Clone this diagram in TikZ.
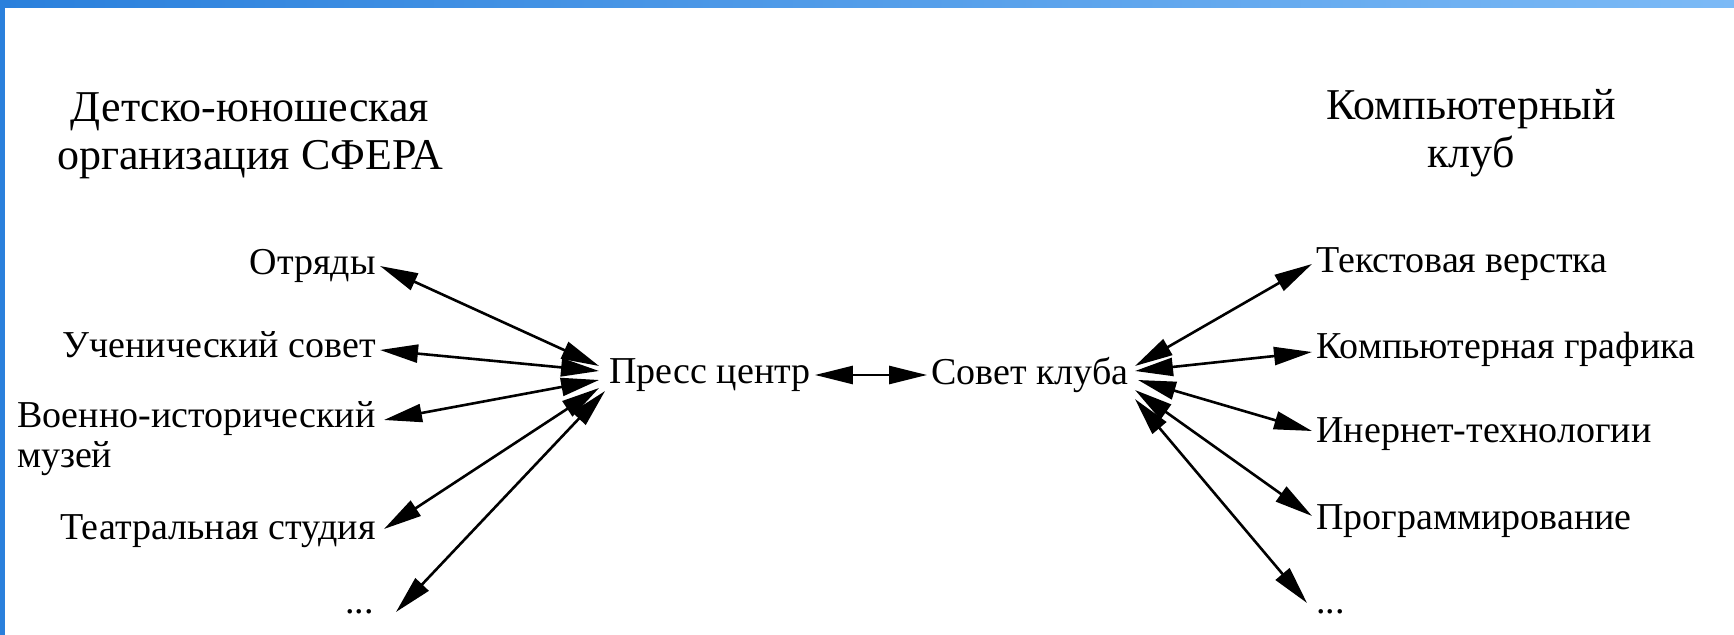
\documentclass[tikz,border=0pt]{standalone}
\usepackage{fontspec}
\setmainfont{Liberation Serif}
\usetikzlibrary{arrows.meta}
\definecolor{polosa1}{RGB}{42,128,220}
\definecolor{polosa2}{RGB}{124,186,246}
\begin{document}
\begin{tikzpicture}[x=0.5pt,y=-0.5pt]
\tikzstyle{punkt}=[inner xsep=2pt, inner ysep=0pt, font=\fontsize{19}{20}\selectfont]
\tikzstyle{zagolovok}=[align=center, inner sep=0pt, font=\fontsize{22}{24}\selectfont]
\tikzstyle{strelka}=[{Triangle[length=19pt,width=9pt]}-{Triangle[length=19pt,width=9pt]}, line width=1.3pt]
\useasboundingbox (0,0) rectangle (1734,635);
\shade[left color=polosa1, right color=polosa2] (0,0) rectangle (1734,8);
\fill[polosa1] (0,0) rectangle (5,635);
% zagolovki
\node[zagolovok] (sfera) at (250,136) {Детско-юношеская\\организация СФЕРА};
\node[zagolovok] (klub) at (1471,133) {Компьютерный\\клуб};
% levaya storona
\node[punkt, anchor=east] (otr) at (380,266) {Отряды};
\node[punkt, anchor=east] (uchsov) at (380,345) {Ученический совет};
\node[punkt, anchor=east, align=left] (muz) at (380,439) {Военно-исторический\\музей};
\node[punkt, anchor=east] (teatr) at (380,531) {Театральная студия};
\node[punkt, anchor=east] (dots1) at (378,612) {...};
% centr
\node[punkt] (press) at (710,375) {Пресс центр};
\node[punkt] (sovet) at (1030,375) {Совет клуба};
% pravaya storona
\node[punkt, anchor=west] (tekst) at (1312,264) {Текстовая верстка};
\node[punkt, anchor=west] (grafika) at (1312,349) {Компьютерная графика};
\node[punkt, anchor=west] (internet) at (1312,434) {Инернет-технологии};
\node[punkt, anchor=west] (progr) at (1312,521) {Программирование};
\node[punkt, anchor=west] (dots2) at (1312,612) {...};
% strelki
\draw[strelka] (otr.east) -- ([shift={(-6,-9)}]press.west);
\draw[strelka] ([shift={(0,5)}]uchsov.east) -- ([shift={(-6,-4)}]press.west);
\draw[strelka] ([shift={(4,-19)}]muz.east) -- ([shift={(-6,5)}]press.west);
\draw[strelka] ([shift={(4,-2)}]teatr.east) -- ([shift={(-6,13)}]press.west);
\draw[strelka] ([shift={(18,0)}]dots1.east) -- ([shift={(0,16)}]press.west);
\draw[strelka] (press.east) -- (sovet.west);
\draw[strelka] ([shift={(2,-9)}]sovet.east) -- (tekst.west);
\draw[strelka] ([shift={(2,-4)}]sovet.east) -- ([shift={(0,3)}]grafika.west);
\draw[strelka] ([shift={(5,5)}]sovet.east) -- ([shift={(0,-3)}]internet.west);
\draw[strelka] ([shift={(2,15)}]sovet.east) -- ([shift={(0,-5)}]progr.west);
\draw[strelka] ([shift={(2,24)}]sovet.east) -- ([shift={(-5,-9)}]dots2.west);
\end{tikzpicture}
\end{document}
